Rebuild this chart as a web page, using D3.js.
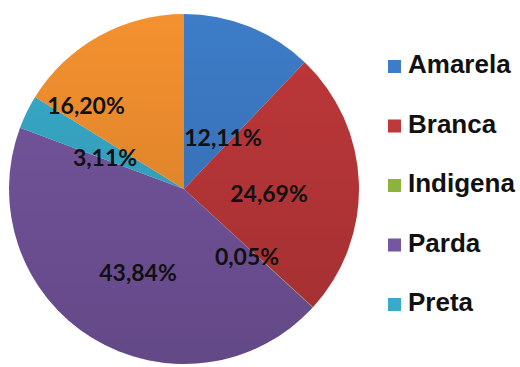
<!DOCTYPE html>
<head>
  <style>
    body { margin: 0; background: #fff; }
  </style>
  <title>Cor/raça</title>
</head>
<body>
  <script src="https://cdn.jsdelivr.net/npm/d3@7"></script>
  <script>
    // data
    var categories = ["Amarela", "Branca", "Indigena", "Parda", "Preta", "Sem declaração"];
    var values = [12.11, 24.69, 0.05, 43.84, 3.11, 16.20];
    var labels = ["12,11%", "24,69%", "0,05%", "43,84%", "3,11%", "16,20%"];
    var colors = ["#3d7cc8", "#bf383a", "#8cb43c", "#7656a0", "#38abca", "#f4912f"];
    var legendItems = ["Amarela", "Branca", "Indigena", "Parda", "Preta"];

    // label centres, placed by hand as in the original
    var labelPos = [
      {x: 223, y: 137}, {x: 269, y: 193}, {x: 247, y: 256},
      {x: 138, y: 272}, {x: 105, y: 157}, {x: 86, y: 105}
    ];

    var width = 520, height = 367;
    var cx = 184, cy = 189, r = 175;

    var svg = d3.select("body").append("svg")
      .attr("width", width)
      .attr("height", height);

    var defs = svg.append("defs");
    var grad = defs.append("linearGradient")
      .attr("id", "shade")
      .attr("x1", 0).attr("y1", 0).attr("x2", 0).attr("y2", 1);
    grad.append("stop").attr("offset", "0%").attr("stop-color", "#000").attr("stop-opacity", 0);
    grad.append("stop").attr("offset", "100%").attr("stop-color", "#000").attr("stop-opacity", 0.16);

    var pie = d3.pie().sort(null).value(function(d) { return d; });
    var arc = d3.arc().innerRadius(0).outerRadius(r);

    var g = svg.append("g")
      .attr("id", "pie")
      .attr("transform", "translate(" + cx + "," + cy + ")");

    g.selectAll("path.slice")
      .data(pie(values))
      .enter().append("path")
      .attr("class", "slice")
      .attr("d", arc)
      .attr("fill", function(d, i) { return colors[i]; });

    // soft darkening towards the bottom, like the original
    g.append("circle")
      .attr("r", r)
      .attr("fill", "url(#shade)");

    // value labels
    svg.append("g").attr("id", "labels")
      .selectAll("text")
      .data(labels)
      .enter().append("text")
      .attr("x", function(d, i) { return labelPos[i].x; })
      .attr("y", function(d, i) { return labelPos[i].y; })
      .attr("text-anchor", "middle")
      .attr("dominant-baseline", "central")
      .style("font-family", "Lato, 'Open Sans', sans-serif")
      .style("font-weight", "bold")
      .style("font-size", "23px")
      .attr("fill", "#111")
      .text(function(d) { return d; });

    // legend
    var legend = svg.append("g").attr("id", "legend")
      .attr("transform", "translate(388,73)");

    var item = legend.selectAll("g")
      .data(legendItems)
      .enter().append("g")
      .attr("transform", function(d, i) { return "translate(0," + (i * 59.5) + ")"; });

    item.append("rect")
      .attr("x", 0)
      .attr("y", -13)
      .attr("width", 13)
      .attr("height", 13)
      .attr("fill", function(d, i) { return colors[i]; });

    item.append("text")
      .attr("x", 20)
      .attr("y", 0)
      .style("font-family", "'Liberation Sans', Arial, sans-serif")
      .style("font-weight", "bold")
      .style("font-size", "26px")
      .attr("fill", "#111")
      .text(function(d) { return d; });
  </script>
</body>
